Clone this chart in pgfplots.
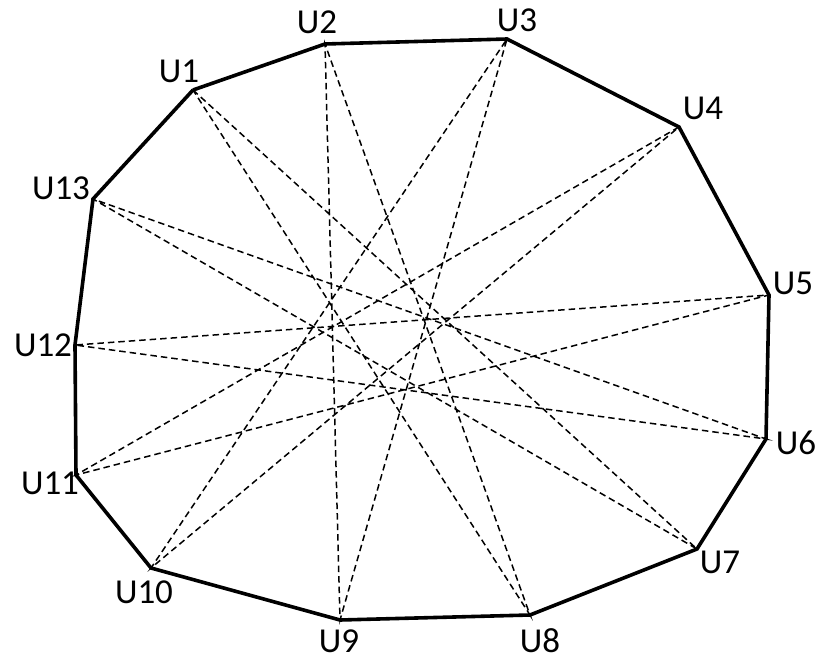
\documentclass[border=0pt]{standalone}
\usepackage{pgfplots}
\pgfplotsset{compat=1.18}
\usepackage{fontspec}
\setmainfont{Carlito}
\tikzset{lbl/.style={font=\fontsize{35bp}{40bp}\selectfont, inner sep=0pt, anchor=base}}
\begin{document}
\begin{tikzpicture}
\begin{axis}[
    name=ax,
    scale only axis,
    x=1bp, y=1bp,
    xmin=0, xmax=833, ymin=0, ymax=661,
    y dir=reverse,
    hide axis,
    clip=false,
]
% star links: each node to the one six places on
\addplot[black, line width=1.5bp, dash pattern=on 6.5bp off 4bp] coordinates {
    (193,90) (697,549) (93,199) (766,439) (75,345) (769,295) (76,475)
    (679,127) (151,568) (507,39) (340,620) (325,44) (530,615) (193,90) };
% outer ring U1..U13
\addplot[black, line width=3.6bp, line join=miter] coordinates {
    (193,90) (325,44) (507,39) (679,127) (769,295) (766,439) (697,549)
    (530,615) (340,620) (151,568) (76,475) (75,345) (93,199) (193,90) };
% labels, placed by their baselines
\node[lbl] at (axis cs:179,83) {U1};
\node[lbl] at (axis cs:317,34) {U2};
\node[lbl] at (axis cs:517,32) {U3};
\node[lbl] at (axis cs:703,120) {U4};
\node[lbl] at (axis cs:793,294) {U5};
\node[lbl] at (axis cs:796,454) {U6};
\node[lbl] at (axis cs:720,573) {U7};
\node[lbl] at (axis cs:540,652) {U8};
\node[lbl] at (axis cs:339,652) {U9};
\node[lbl] at (axis cs:144,603) {U10};
\node[lbl] at (axis cs:50,494) {U11};
\node[lbl] at (axis cs:43,356) {U12};
\node[lbl] at (axis cs:61,199) {U13};
\end{axis}
\pgfresetboundingbox
\useasboundingbox (ax.south west) rectangle (ax.north east);
\end{tikzpicture}
\end{document}
